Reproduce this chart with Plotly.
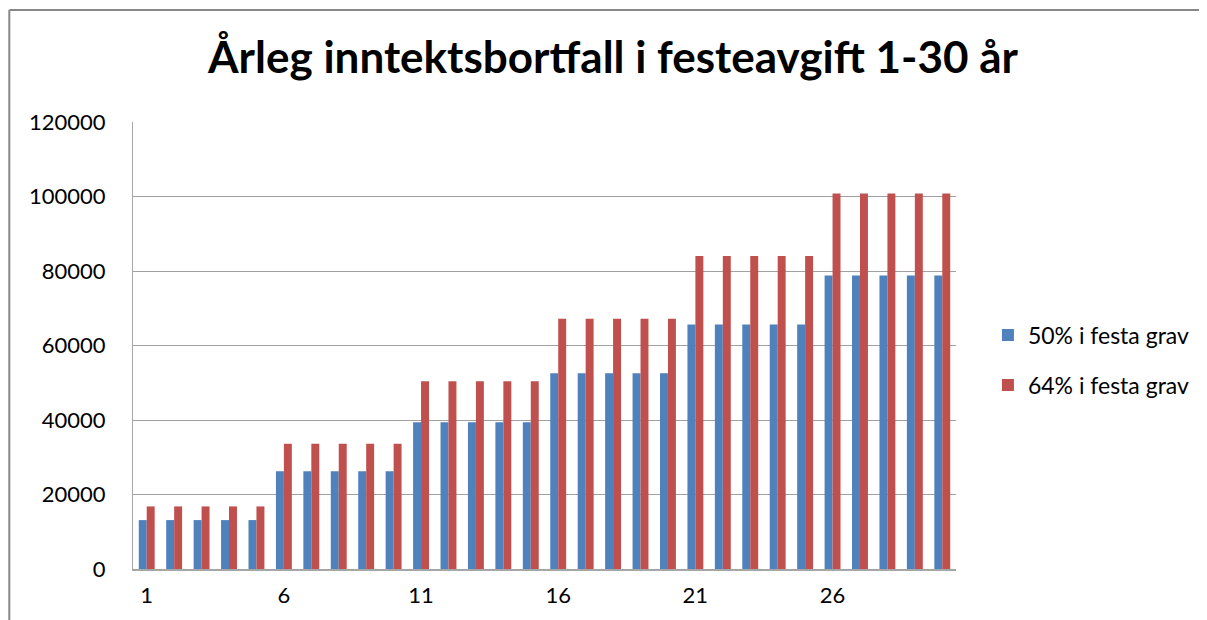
import plotly.graph_objects as go

categories = [str(i) for i in range(1, 31)]
tick_labels = ["1", "6", "11", "16", "21", "26"]
series_50 = [13130] * 5 + [26260] * 5 + [39390] * 5 + [52520] * 5 + [65650] * 5 + [78780] * 5
series_64 = [16800] * 5 + [33600] * 5 + [50400] * 5 + [67200] * 5 + [84000] * 5 + [100800] * 5
name_50 = "50% i festa grav"
name_64 = "64% i festa grav"
title = "Årleg inntektsbortfall i festeavgift 1-30 år"

OFF = 8  # page body margin
W, H = 1207 - OFF, 620 - OFF
L, R, T, B = 133 - OFF, 249, 122 - OFF, 51
pw, ph = W - L - R, H - T - B

def px_x(p):
    return (p - OFF - L) / pw

def px_y(p):
    return (H - B - (p - OFF)) / ph

fig = go.Figure()
fig.add_bar(x=categories, y=series_50, name=name_50, legend="legend", showlegend=True,
            marker=dict(color="#4F81BD", line=dict(width=0)))
fig.add_bar(x=categories, y=series_64, name=name_64, legend="legend2", showlegend=True,
            marker=dict(color="#C0504D", line=dict(width=0)))

leg_common = dict(xanchor="left", yanchor="middle", font=dict(size=23, color="black"),
                  bgcolor="rgba(0,0,0,0)", itemsizing="constant", visible=True)

fig.update_layout(
    width=W, height=H,
    margin=dict(l=L, r=R, t=T, b=B),
    paper_bgcolor="white", plot_bgcolor="white",
    showlegend=True,
    barmode="group", bargap=0.42, bargroupgap=0,
    font=dict(family="Lato, 'Open Sans', sans-serif", color="black", size=22),
    title=dict(text="<b>" + title + "</b>", x=(613 - OFF) / W, xref="container", xanchor="center",
               y=1 - (58 - OFF) / H, yref="container", yanchor="middle",
               font=dict(family="Lato, sans-serif", size=44, color="black")),
    legend=dict(x=px_x(990), y=px_y(335), **leg_common),
    legend2=dict(x=px_x(990), y=px_y(385), **leg_common),
    xaxis=dict(type="category", tickmode="array", tickvals=tick_labels, ticktext=tick_labels,
               showgrid=False, showline=True, linecolor="#A6A6A6", linewidth=2,
               ticks="", tickfont=dict(size=22), ticklabelstandoff=6),
    yaxis=dict(range=[0, 120000], dtick=20000, showgrid=True, gridcolor="#A0A0A0", gridwidth=1.3,
               showline=True, linecolor="#A6A6A6", linewidth=1.3, zeroline=False,
               ticks="", tickformat="d", tickfont=dict(size=22), ticklabelstandoff=22),
    shapes=[
        dict(type="line", xref="paper", yref="paper", x0=px_x(9), x1=px_x(1215), y0=px_y(10), y1=px_y(10),
             line=dict(color="#888888", width=2)),
        dict(type="line", xref="paper", yref="paper", x0=px_x(9), x1=px_x(9), y0=px_y(10), y1=px_y(630),
             line=dict(color="#888888", width=2)),
    ],
)
fig.write_html("out.html")
